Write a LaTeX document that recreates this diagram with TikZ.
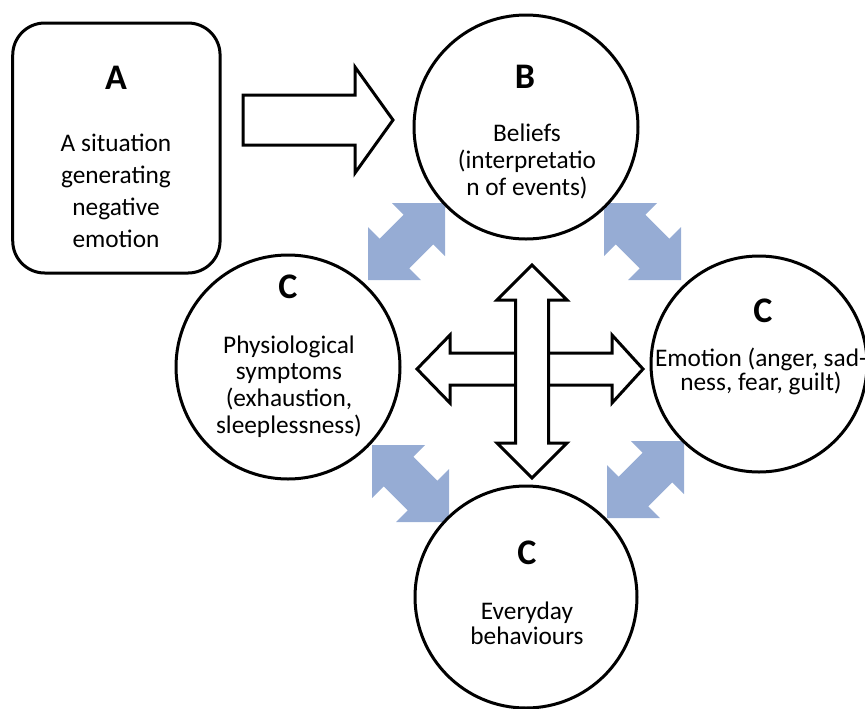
\documentclass[tikz,border=0pt]{standalone}
\usepackage{fontspec}
\setmainfont{Carlito}
\definecolor{arrowblue}{RGB}{150,172,212}
\begin{document}
\begin{tikzpicture}[x=0.75pt,y=-0.75pt,
  blockarrow/.style={draw=black, fill=white, line width=2.25pt, miter limit=10},
  ring/.style={circle, draw=black, fill=white, line width=2.25pt, inner sep=0pt},
  abox/.style={draw=black, line width=2.25pt, rounded corners=24pt, inner sep=0pt},
  letter/.style={font=\fontsize{27}{30}\selectfont\bfseries, anchor=base, inner sep=0pt},
  body/.style={align=center, anchor=base, inner sep=0pt},
  dblblue/.pic={
    \fill[arrowblue] (0,0) -- (53,0) -- (41.35,11.65) -- (65.35,35.65) -- (77,24)
      -- (77,77) -- (24,77) -- (35.65,65.35) -- (11.65,41.35) -- (0,53) -- cycle;
  }
]
\useasboundingbox (0,0) rectangle (865,708);

% blue double arrows
\pic[xscale=-1] (bl1) at (445,203) {dblblue};
\pic (bl2) at (604,203) {dblblue};
\pic (bl3) at (372,445) {dblblue};
\pic[xscale=-1] (bl4) at (684,441) {dblblue};

% box A and circles
\node[abox, minimum width=155.5pt, minimum height=187.5pt] (A) at (116.4,148) {};
\node[ring, minimum size=168pt] (B) at (526,127) {};
\node[ring, minimum size=168pt] (CL) at (288,367) {};
\node[ring, minimum size=162pt] (CR) at (759,364) {};
\node[ring, minimum size=166.5pt] (CB) at (526,597) {};

% letters
\node[letter] (Al) at (116,89) {A};
\node[letter] (Bl) at (525,88) {B};
\node[letter] (CLl) at (288,298) {C};
\node[letter] (CRl) at (763,322) {C};
\node[letter] (CBl) at (527,564) {C};

% texts (anchored at the baseline of the last line)
\node[body, font=\fontsize{19}{24}\selectfont] (At) at (116,247) {A situation\\generating\\negative\\emotion};
\node[body, font=\fontsize{19}{20}\selectfont] (Bt) at (527,195) {Beliefs\\(interpretatio\\n of events)};
\node[body, font=\fontsize{19}{20}\selectfont] (CLt) at (289,433) {Physiological\\symptoms\\(exhaustion,\\sleeplessness)};
\node[body, font=\fontsize{19}{14.6}\selectfont] (CRt) at (761,390.5) {Emotion (anger, sad-\\ness, fear, guilt)};
\node[body, font=\fontsize{19}{18.75}\selectfont] (CBt) at (527,644) {Everyday\\behaviours};

% A -> B block arrow
\draw[blockarrow] (243,95) -- (355,95) -- (355,67) -- (393,120) -- (355,173)
  -- (355,145) -- (243,145) -- cycle;

% central cross
\draw[blockarrow] (417,369) -- (450,335) -- (450,353) -- (612,353) -- (612,335)
  -- (643,369) -- (612,403) -- (612,385) -- (450,385) -- (450,403) -- cycle;
\draw[blockarrow] (532,265) -- (567,300) -- (548.5,300) -- (548.5,443) -- (567,443)
  -- (532,478) -- (497,443) -- (515.5,443) -- (515.5,300) -- (497,300) -- cycle;
\end{tikzpicture}
\end{document}
